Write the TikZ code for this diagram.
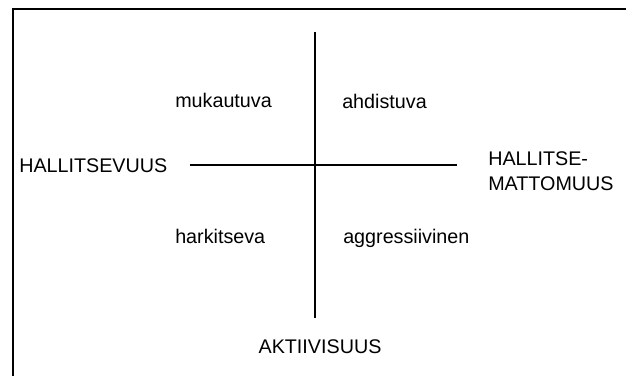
\documentclass[tikz,border=0pt]{standalone}
\usepackage{fontspec}
\setmainfont{Liberation Sans}
\usetikzlibrary{positioning}

\tikzset{
  lbl/.style={inner sep=0pt, font=\fontsize{14.8}{18.75}\selectfont},
  axis/.style={line width=1.2pt},
  frame/.style={line width=1.5pt}
}

\begin{document}
\begin{tikzpicture}[x=0.75pt,y=0.75pt,yscale=-1,xscale=1]
\useasboundingbox (0,0) rectangle (626,376);

%Shape: Frame (top and left edges only)
\draw [frame] (626,9) -- (13,9) -- (13,376) ;

%Straight Lines: axes
\coordinate (top) at (315,32);
\coordinate (bottom) at (315,318);
\coordinate (left) at (190,165);
\coordinate (right) at (457,165);
\draw [axis] (top) -- (bottom) ;
\draw [axis] (left) -- (right) ;

% Text Node
\node [lbl, anchor=base west] (mukautuva) at (175,107) {mukautuva};
% Text Node
\node [lbl, anchor=base west] (ahdistuva) at (342,108) {ahdistuva};
% Text Node
\node [lbl, anchor=base west] (harkitseva) at (175,243) {harkitseva};
% Text Node
\node [lbl, anchor=base west] (aggressiivinen) at (343,243) {aggressiivinen};
% Text Node
\node [lbl, anchor=base west] (hallitsevuus) at (19,172) {HALLITSEVUUS};
% Text Node
\node [lbl, anchor=north west, align=left] (hallitsemattomuus) at (488,151) {HALLITSE-\\MATTOMUUS};
% Text Node
\node [lbl, anchor=base] (aktiivisuus) at (320,353) {AKTIIVISUUS};

\end{tikzpicture}
\end{document}
